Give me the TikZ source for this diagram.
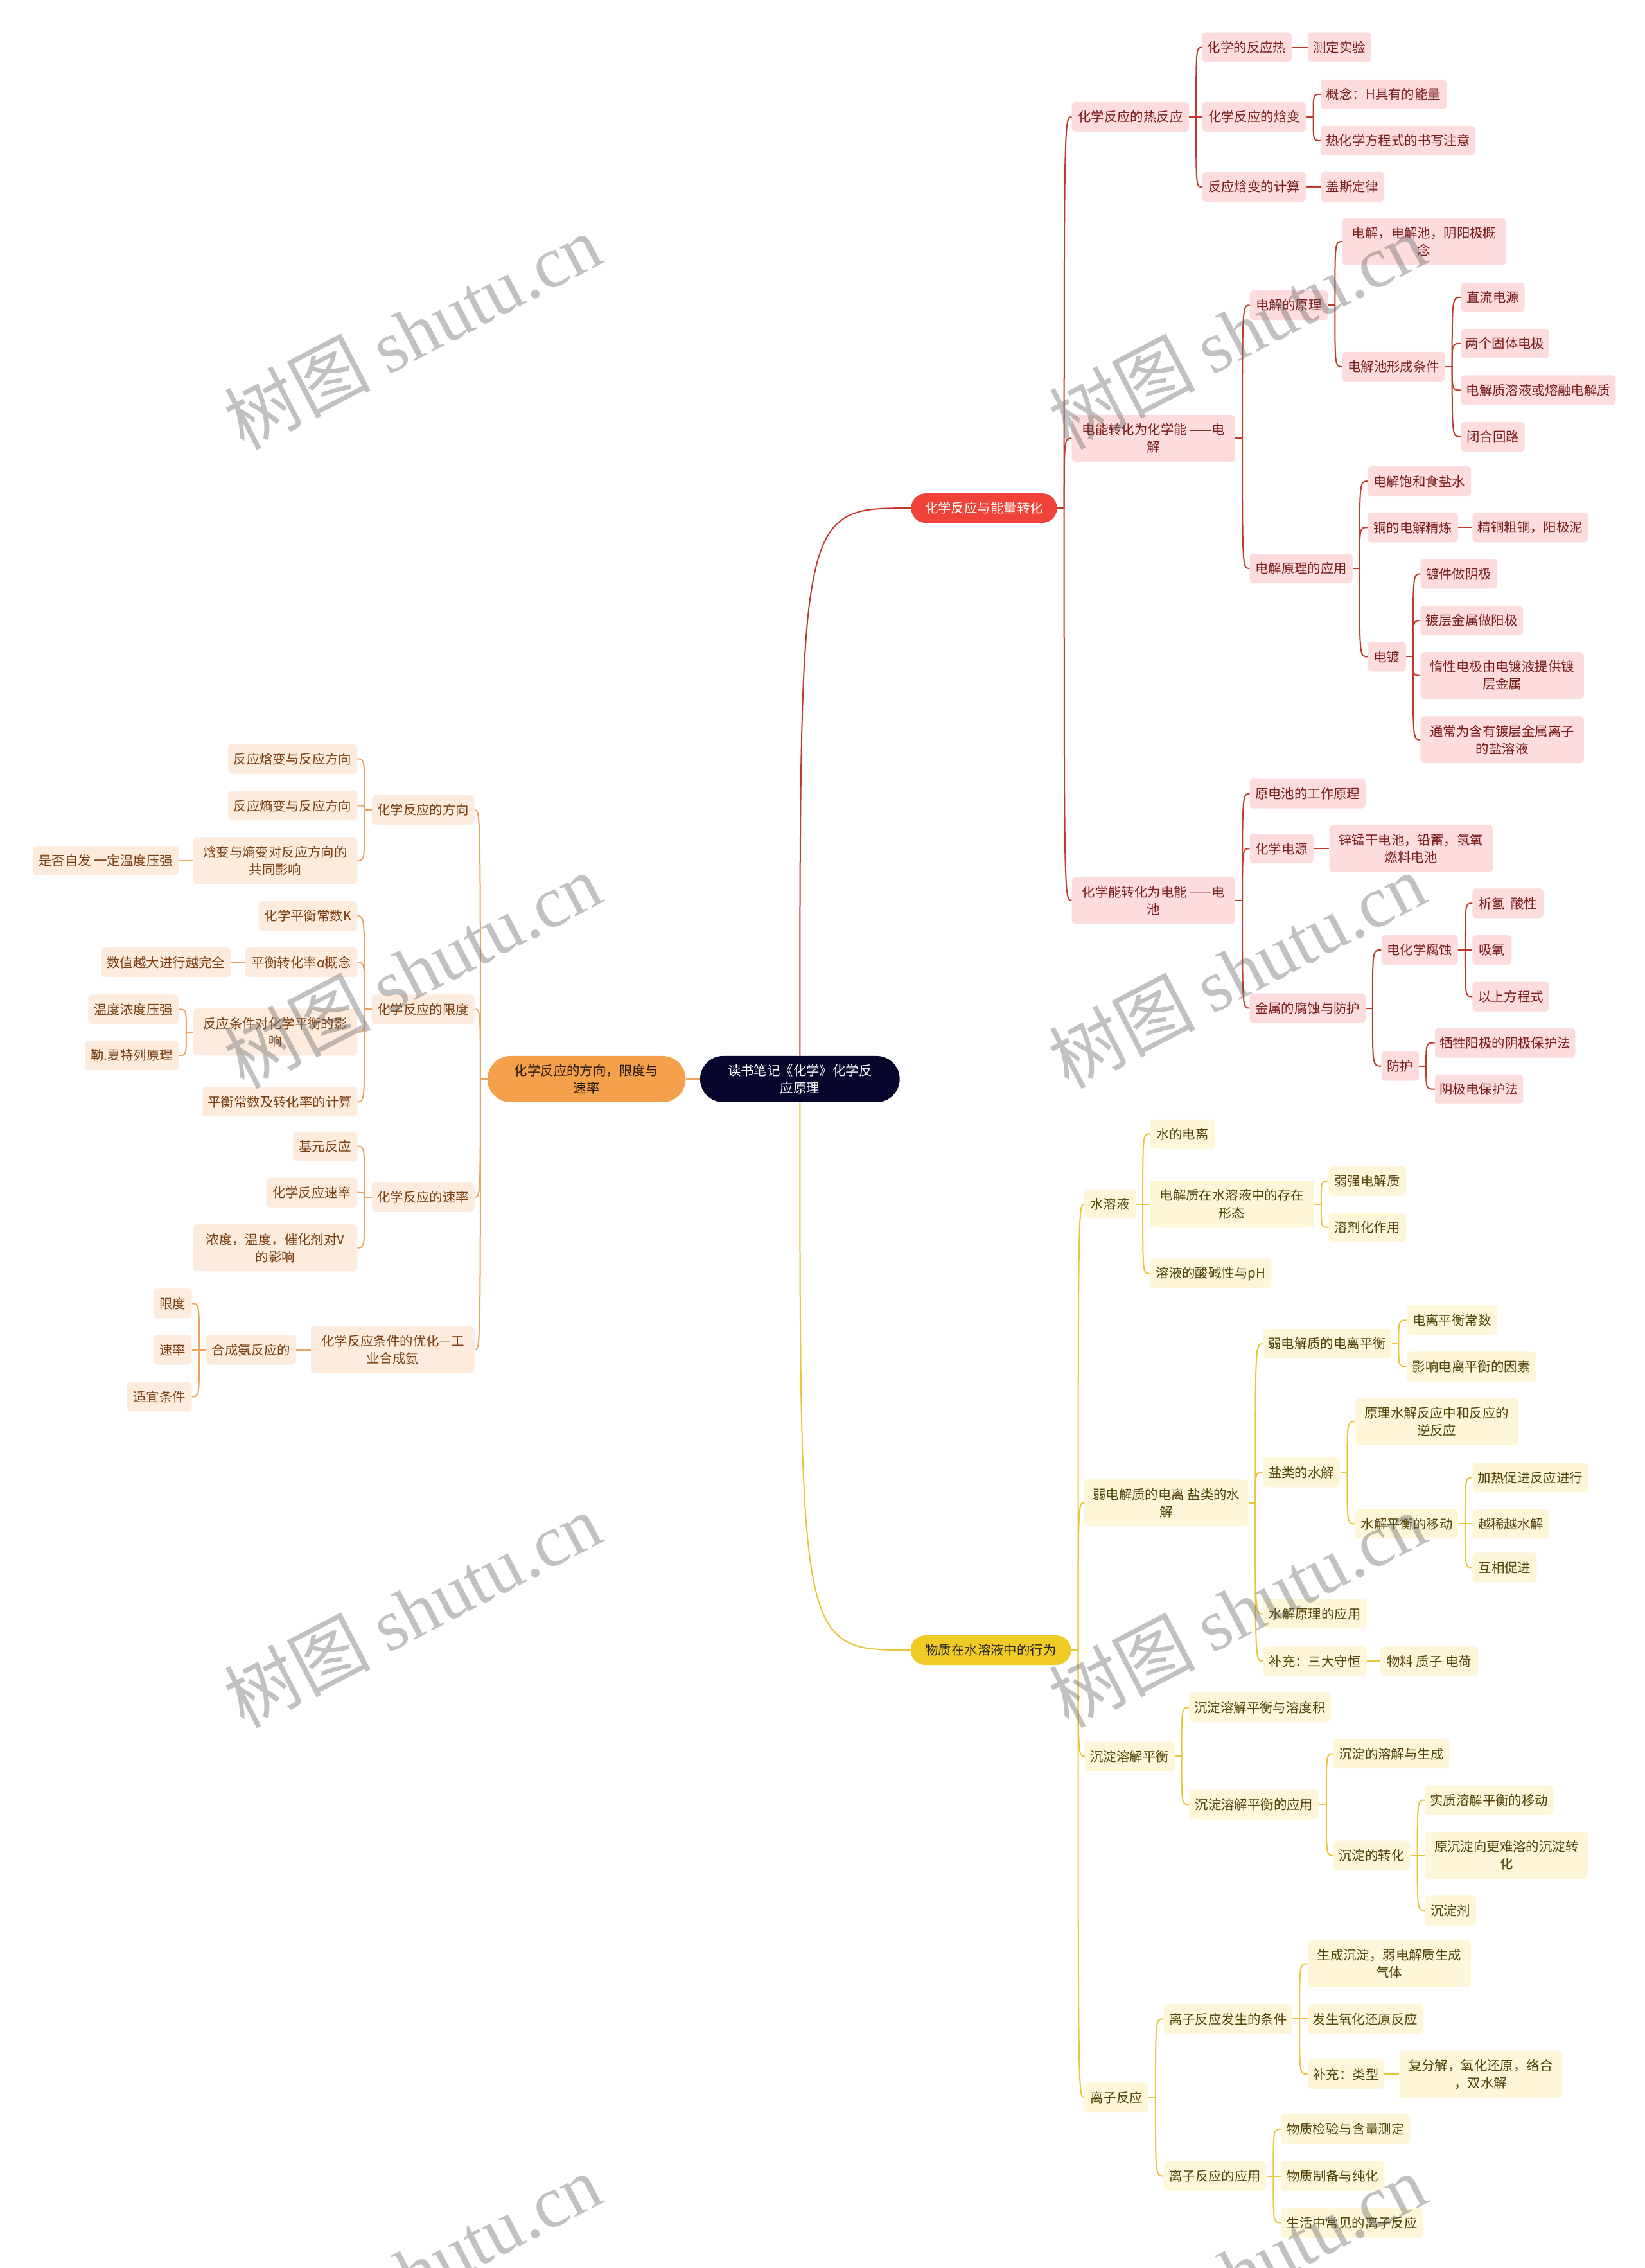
\documentclass[tikz,border=0pt]{standalone}
\usepackage{fontspec}
\setmainfont{Noto Sans CJK SC}
\newfontfamily\wmserif{Liberation Serif}
\usetikzlibrary{calc}
\definecolor{rfill}{HTML}{FCDCDC}
\definecolor{rtext}{HTML}{7A1C1C}
\definecolor{rline}{HTML}{C0392B}
\definecolor{rpillc}{HTML}{EF4238}
\definecolor{ofill}{HTML}{FDEBDD}
\definecolor{otext}{HTML}{7A3E12}
\definecolor{oline}{HTML}{EBA460}
\definecolor{opillc}{HTML}{F5A04B}
\definecolor{yfill}{HTML}{FEF6D8}
\definecolor{ytext}{HTML}{524208}
\definecolor{yline}{HTML}{E9C53A}
\definecolor{ypillc}{HTML}{F0CB26}
\definecolor{rootc}{HTML}{06052B}
\newdimen\ux \ux=2.2515pt
\newcommand\nodefont{\fontsize{20.4pt}{27pt}\selectfont}
\newcommand\kidsR[3]{%
  \coordinate (bus) at ($(#2.east)+(4.8,0)$);
  \draw[#1] (#2.east) -- (bus);
  \foreach \ch in {#3}{\draw[#1] (bus) .. controls (bus |- \ch.west) .. (\ch.west);}}
\newcommand\kidsL[3]{%
  \coordinate (bus) at ($(#2.west)+(-4.8,0)$);
  \draw[#1] (#2.west) -- (bus);
  \foreach \ch in {#3}{\draw[#1] (bus) .. controls (bus |- \ch.east) .. (\ch.east);}}
\begin{document}
\begin{tikzpicture}[x=2.2515pt,y=-2.2515pt,
  box/.style={rectangle, rounded corners=6pt, inner sep=0pt, align=center, font=\nodefont, minimum height=46pt},
  tall/.style={minimum height=73pt},
  wd/.style={minimum width=#1*\ux},
  rb/.style={box, fill=rfill, text=rtext},
  ob/.style={box, fill=ofill, text=otext},
  yb/.style={box, fill=yfill, text=ytext},
  rpill/.style={box, fill=rpillc, text=white, rounded corners=23pt, minimum height=46pt},
  ypill/.style={box, fill=ypillc, text=black!85, rounded corners=23pt, minimum height=46pt},
  opill/.style={box, fill=opillc, text=black!80!brown, rounded corners=36pt, minimum height=72pt},
  rootbox/.style={box, fill=rootc, text=white, rounded corners=36pt, minimum height=72pt},
  rl/.style={draw=rline, line width=2pt},
  ol/.style={draw=oline, line width=2pt},
  yl/.style={draw=yline, line width=2pt},
  wm/.style={text=black!60, opacity=0.4, font=\fontsize{114pt}{120pt}\selectfont, inner sep=0pt}
]
\fill[white] (0,0) rectangle (1137,1568);
\useasboundingbox (0,0) rectangle (1137,1568);

% root
\node[rootbox, wd=138] (root) at (553,746) {读书笔记《化学》化学反\\应原理};

% red branch
\node[rpill, wd=101] (R0) at (680.3,351.3) {化学反应与能量转化};
\node[rb, wd=81] (r1) at (781.5,80.8) {化学反应的热反应};
\node[rb, tall, wd=113] (r2) at (797.5,303) {电能转化为化学能 ——电\\解};
\node[rb, tall, wd=113] (r3) at (797.5,622.5) {化学能转化为电能 ——电\\池};
\node[rb, wd=62] (r11) at (862,32.7) {化学的反应热};
\node[rb, wd=44] (r111) at (926,32.7) {测定实验};
\node[rb, wd=72] (r12) at (867,80.8) {化学反应的焓变};
\node[rb, wd=87] (r121) at (956.5,65.2) {概念：H具有的能量};
\node[rb, wd=107] (r122) at (966.5,97.2) {热化学方程式的书写注意};
\node[rb, wd=72] (r13) at (867,129.2) {反应焓变的计算};
\node[rb, wd=44] (r131) at (935,129.2) {盖斯定律};
\node[rb, wd=54] (r21) at (891,211) {电解的原理};
\node[rb, tall, wd=113] (r211) at (984.5,167) {电解，电解池，阴阳极概\\念};
\node[rb, wd=71] (r212) at (963.5,253.5) {电解池形成条件};
\node[rb, wd=44] (r2121) at (1032,205.5) {直流电源};
\node[rb, wd=61] (r2122) at (1040.5,237.5) {两个固体电极};
\node[rb, wd=107] (r2123) at (1063.5,269.7) {电解质溶液或熔融电解质};
\node[rb, wd=44] (r2124) at (1032,302) {闭合回路};
\node[rb, wd=71] (r22) at (899.5,393) {电解原理的应用};
\node[rb, wd=71.5] (r221) at (981.2,332.7) {电解饱和食盐水};
\node[rb, wd=62.5] (r222) at (976.7,364.7) {铜的电解精炼};
\node[rb, wd=80] (r2221) at (1058,364.7) {精铜粗铜，阳极泥};
\node[rb, wd=26.5] (r223) at (958.7,454) {电镀};
\node[rb, wd=53] (r2231) at (1008.5,396.7) {镀件做阴极};
\node[rb, wd=71] (r2232) at (1017.5,429) {镀层金属做阳极};
\node[rb, tall, wd=113] (r2233) at (1038.5,467) {惰性电极由电镀液提供镀\\层金属};
\node[rb, tall, wd=113] (r2234) at (1038.5,511.5) {通常为含有镀层金属离子\\的盐溶液};
\node[rb, wd=80] (r31) at (904,548.7) {原电池的工作原理};
\node[rb, wd=44] (r32) at (886,586.7) {化学电源};
\node[rb, tall, wd=113] (r321) at (975.5,586.7) {锌锰干电池，铅蓄，氢氧\\燃料电池};
\node[rb, wd=80] (r33) at (904,697) {金属的腐蚀与防护};
\node[rb, wd=53] (r331) at (981.5,656.7) {电化学腐蚀};
\node[rb, wd=49] (r3311) at (1042.5,624.5) {析氢\ \ 酸性};
\node[rb, wd=27] (r3312) at (1031.5,656.7) {吸氧};
\node[rb, wd=53] (r3313) at (1044.5,689) {以上方程式};
\node[rb, wd=26] (r332) at (968,737) {防护};
\node[rb, wd=97] (r3321) at (1040.5,721) {牺牲阳极的阴极保护法};
\node[rb, wd=61] (r3322) at (1022.5,753) {阴极电保护法};

% orange branch
\node[opill, wd=137] (O0) at (405.5,746) {化学反应的方向，限度与\\速率};
\node[ob, wd=71] (o1) at (292.5,560) {化学反应的方向};
\node[ob, wd=89.3] (o11) at (202.3,524.7) {反应焓变与反应方向};
\node[ob, wd=89.3] (o12) at (202.3,557) {反应熵变与反应方向};
\node[ob, tall, wd=113.3] (o13) at (190.3,595) {焓变与熵变对反应方向的\\共同影响};
\node[ob, wd=100.8] (o131) at (73.1,595) {是否自发 一定温度压强};
\node[ob, wd=71] (o2) at (292.5,697.8) {化学反应的限度};
\node[ob, wd=68.2] (o21) at (212.9,633.3) {化学平衡常数K};
\node[ob, wd=77.6] (o22) at (208.2,665.3) {平衡转化率α概念};
\node[ob, wd=89.5] (o221) at (114.75,665.3) {数值越大进行越完全};
\node[ob, tall, wd=113.3] (o23) at (190.3,713.5) {反应条件对化学平衡的影\\响};
\node[ob, wd=62.5] (o231) at (92.2,697.8) {温度浓度压强};
\node[ob, wd=64.7] (o232) at (91.1,729.7) {勒.夏特列原理};
\node[ob, wd=107] (o24) at (193.5,761.7) {平衡常数及转化率的计算};
\node[ob, wd=71] (o3) at (292.5,827.7) {化学反应的速率};
\node[ob, wd=44.5] (o31) at (224.7,792.5) {基元反应};
\node[ob, wd=63] (o32) at (215.5,824.5) {化学反应速率};
\node[ob, tall, wd=113.3] (o33) at (190.3,862.7) {浓度，温度，催化剂对V\\的影响};
\node[ob, tall, wd=113] (o4) at (271.5,933.2) {化学反应条件的优化—工\\业合成氨};
\node[ob, wd=62.2] (o41) at (173.7,933.2) {合成氨反应的};
\node[ob, wd=26.6] (o411) at (119.3,901.2) {限度};
\node[ob, wd=26.6] (o412) at (119.3,933.2) {速率};
\node[ob, wd=44.6] (o413) at (110.3,965.6) {适宜条件};

% yellow branch
\node[ypill, wd=111] (Y0) at (685,1140.8) {物质在水溶液中的行为};
\node[yb, wd=35.5] (y1) at (767.4,832.5) {水溶液};
\node[yb, wd=45] (y11) at (817.5,784) {水的电离};
\node[yb, tall, wd=113.5] (y12) at (851.7,832.5) {电解质在水溶液中的存在\\形态};
\node[yb, wd=53.5] (y121) at (945.2,816.5) {弱强电解质};
\node[yb, wd=53.5] (y122) at (945.2,848.5) {溶剂化作用};
\node[yb, wd=84] (y13) at (837,880.5) {溶液的酸碱性与pH};
\node[yb, tall, wd=113.3] (y2) at (806.3,1039) {弱电解质的电离\ 盐类的水\\解};
\node[yb, wd=89] (y21) at (917.5,929) {弱电解质的电离平衡};
\node[yb, wd=62.5] (y211) at (1003.7,912.7) {电离平衡常数};
\node[yb, wd=89.5] (y212) at (1017.2,944.7) {影响电离平衡的因素};
\node[yb, wd=53.5] (y22) at (899.7,1018) {盐类的水解};
\node[yb, tall, wd=112.5] (y221) at (993.2,982.7) {原理水解反应中和反应的\\逆反应};
\node[yb, wd=71] (y222) at (972.5,1053.5) {水解平衡的移动};
\node[yb, wd=80] (y2221) at (1058,1021.5) {加热促进反应进行};
\node[yb, wd=53] (y2222) at (1044.5,1053.5) {越稀越水解};
\node[yb, wd=44.5] (y2223) at (1040.2,1083.7) {互相促进};
\node[yb, wd=72] (y23) at (909,1115.7) {水解原理的应用};
\node[yb, wd=72] (y24) at (909,1148.5) {补充：三大守恒};
\node[yb, wd=67.5] (y241) at (988.2,1148.5) {物料 质子 电荷};
\node[yb, wd=62] (y3) at (781,1214.2) {沉淀溶解平衡};
\node[yb, wd=98] (y31) at (871,1180.5) {沉淀溶解平衡与溶度积};
\node[yb, wd=90] (y32) at (867,1247.5) {沉淀溶解平衡的应用};
\node[yb, wd=80.4] (y321) at (961.8,1212.5) {沉淀的溶解与生成};
\node[yb, wd=53.4] (y322) at (948.3,1282.7) {沉淀的转化};
\node[yb, wd=89] (y3221) at (1029.5,1244.5) {实质溶解平衡的移动};
\node[yb, tall, wd=113] (y3222) at (1041.5,1282.7) {原沉淀向更难溶的沉淀转\\化};
\node[yb, wd=35.5] (y3223) at (1002.7,1320.8) {沉淀剂};
\node[yb, wd=44.3] (y4) at (771.8,1450) {离子反应};
\node[yb, wd=89] (y41) at (849,1395.8) {离子反应发生的条件};
\node[yb, tall, wd=113] (y411) at (960.5,1357.7) {生成沉淀，弱电解质生成\\气体};
\node[yb, wd=79.6] (y412) at (943.8,1395.8) {发生氧化还原反应};
\node[yb, wd=53] (y413) at (930.5,1434) {补充：类型};
\node[yb, tall, wd=112.6] (y4131) at (1023.7,1434) {复分解，氧化还原，络合\\，双水解};
\node[yb, wd=70.8] (y42) at (840,1504.3) {离子反应的应用};
\node[yb, wd=89.4] (y421) at (930.3,1472) {物质检验与含量测定};
\node[yb, wd=71.4] (y422) at (921.3,1504.3) {物质制备与纯化};
\node[yb, wd=98] (y423) at (934.6,1536.7) {生活中常见的离子反应};

% root connectors
\draw[rl] (root.north) .. controls (root.north |- R0.west) .. (R0.west);
\draw[yl] (root.south) .. controls (root.south |- Y0.west) .. (Y0.west);
\draw[ol] (root.west) -- (O0.east);

% red connectors
\kidsR{rl}{R0}{r1,r2,r3}
\kidsR{rl}{r1}{r11,r12,r13}
\kidsR{rl}{r11}{r111}
\kidsR{rl}{r12}{r121,r122}
\kidsR{rl}{r13}{r131}
\kidsR{rl}{r2}{r21,r22}
\kidsR{rl}{r21}{r211,r212}
\kidsR{rl}{r212}{r2121,r2122,r2123,r2124}
\kidsR{rl}{r22}{r221,r222,r223}
\kidsR{rl}{r222}{r2221}
\kidsR{rl}{r223}{r2231,r2232,r2233,r2234}
\kidsR{rl}{r3}{r31,r32,r33}
\kidsR{rl}{r32}{r321}
\kidsR{rl}{r33}{r331,r332}
\kidsR{rl}{r331}{r3311,r3312,r3313}
\kidsR{rl}{r332}{r3321,r3322}

% yellow connectors
\kidsR{yl}{Y0}{y1,y2,y3,y4}
\kidsR{yl}{y1}{y11,y12,y13}
\kidsR{yl}{y12}{y121,y122}
\kidsR{yl}{y2}{y21,y22,y23,y24}
\kidsR{yl}{y21}{y211,y212}
\kidsR{yl}{y22}{y221,y222}
\kidsR{yl}{y222}{y2221,y2222,y2223}
\kidsR{yl}{y24}{y241}
\kidsR{yl}{y3}{y31,y32}
\kidsR{yl}{y32}{y321,y322}
\kidsR{yl}{y322}{y3221,y3222,y3223}
\kidsR{yl}{y4}{y41,y42}
\kidsR{yl}{y41}{y411,y412,y413}
\kidsR{yl}{y413}{y4131}
\kidsR{yl}{y42}{y421,y422,y423}

% orange connectors
\kidsL{ol}{O0}{o1,o2,o3,o4}
\kidsL{ol}{o1}{o11,o12,o13}
\kidsL{ol}{o13}{o131}
\kidsL{ol}{o2}{o21,o22,o23,o24}
\kidsL{ol}{o22}{o221}
\kidsL{ol}{o23}{o231,o232}
\kidsL{ol}{o3}{o31,o32,o33}
\kidsL{ol}{o4}{o41}
\kidsL{ol}{o41}{o411,o412,o413}

% watermark
\foreach \wy [count=\k] in {229,671,1113,1570}{
  \node[wm, rotate=27.5] (wmL\k) at (285,\wy) {树图 {\wmserif shutu.cn}};
  \node[wm, rotate=27.5] (wmR\k) at (855,\wy) {树图 {\wmserif shutu.cn}};
}
\end{tikzpicture}
\end{document}
